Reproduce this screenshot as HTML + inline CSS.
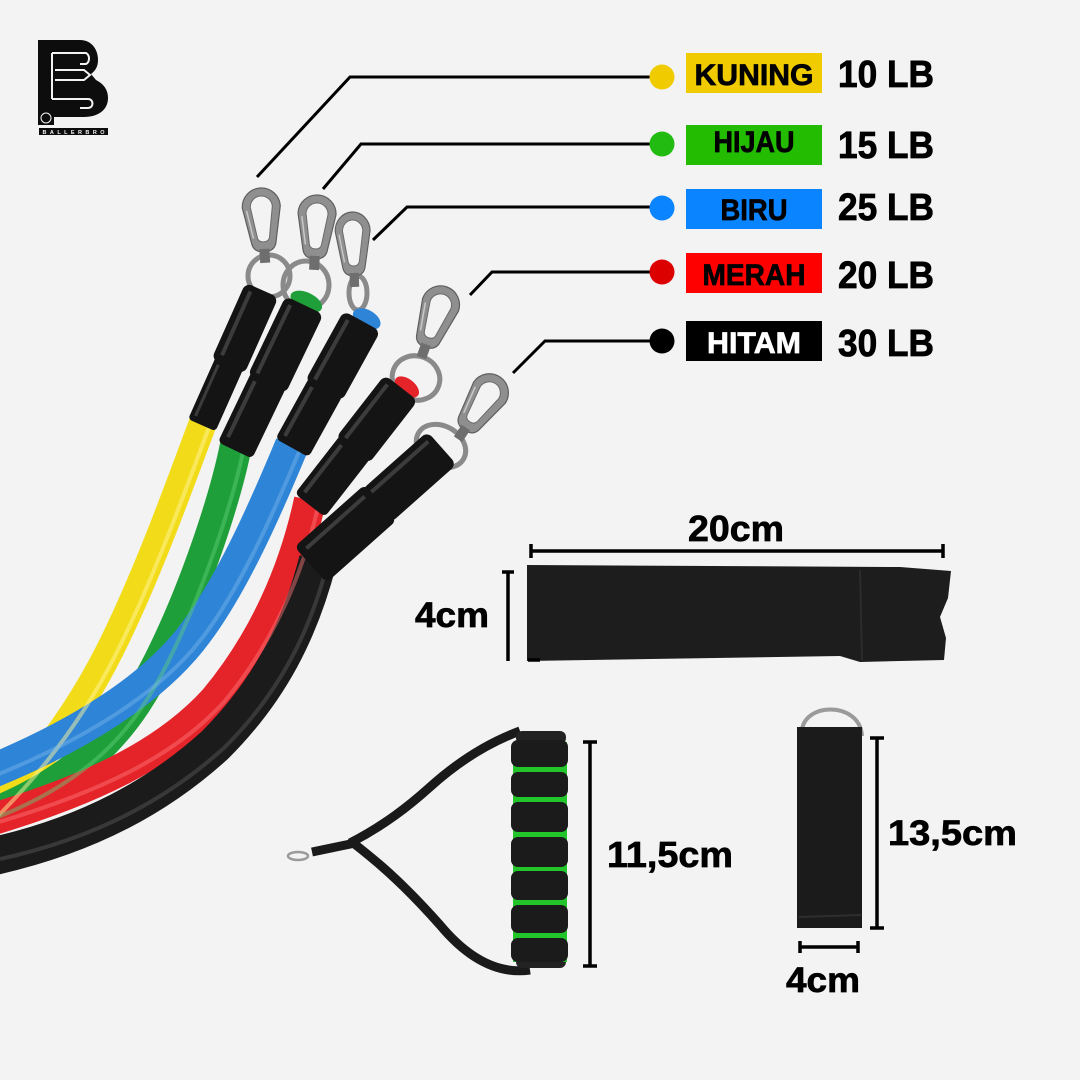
<!DOCTYPE html>
<html><head><meta charset="utf-8"><style>
html,body{margin:0;padding:0;background:#f3f3f3;}
svg{display:block;font-family:"Liberation Sans",Arial,sans-serif;}
</style></head><body>
<svg width="1080" height="1080" viewBox="0 0 1080 1080" xmlns="http://www.w3.org/2000/svg">
<rect width="1080" height="1080" fill="#f3f3f3"/>

<!-- Logo -->
<g>
  <path d="M38,40 L80,40 C92,40 98,50 98,60 C98,67 95,71 91,74 L96,80 C104,84 108,90 108,98 C108,110 98,117 84,117 L54,117 L54,125 L38,125 Z" fill="#0d0d0d"/>
  <g stroke="#f3f3f3" stroke-width="2" fill="none">
    <path d="M52,53 L86,53 C90,55 90,62 86,64 L80,64"/>
    <path d="M52,53 L52,99"/>
    <path d="M55,70 L84,70 L90,75 L84,80 L55,80"/>
    <path d="M52,99 L88,99 C94,99 94,108 88,108 L80,108"/>
  </g>
  <circle cx="46" cy="118" r="5" fill="none" stroke="#f3f3f3" stroke-width="1"/>
  <rect x="39" y="128" width="69" height="7" fill="#0d0d0d"/>
  <text x="73.5" y="134" font-size="5.5" font-weight="bold" fill="#f3f3f3" text-anchor="middle" textLength="62" lengthAdjust="spacing">BALLERBRO</text>
</g>

<!-- Leader lines -->
<g stroke="#000" stroke-width="3" fill="none">
  <path d="M257,177 L350,77 L652,77"/>
  <path d="M323,189 L361,144 L652,144"/>
  <path d="M373,240 L407,207 L652,207"/>
  <path d="M470,295 L492,272 L652,272"/>
  <path d="M513,373 L545,341 L652,341"/>
</g>
<circle cx="662" cy="77" r="12.5" fill="#efcb00"/>
<circle cx="662" cy="144" r="12.5" fill="#22bb11"/>
<circle cx="662" cy="208" r="12.5" fill="#0a84ff"/>
<circle cx="662" cy="272" r="12.5" fill="#dd0000"/>
<circle cx="662" cy="341" r="12.5" fill="#000"/>

<!-- Label boxes -->
<rect x="686" y="53" width="136" height="40" fill="#efcb00"/>
<rect x="686" y="125" width="136" height="40" fill="#23bc00"/>
<rect x="686" y="189" width="136" height="40" fill="#0a84ff"/>
<rect x="686" y="253" width="136" height="40" fill="#ff0000"/>
<rect x="686" y="321" width="136" height="40" fill="#000"/>
<g font-weight="bold" font-size="30" text-anchor="middle" fill="#000" stroke="#000" stroke-width="0.7">
  <text x="754" y="85" textLength="119" lengthAdjust="spacingAndGlyphs">KUNING</text>
  <text x="754" y="152" textLength="81" lengthAdjust="spacingAndGlyphs">HIJAU</text>
  <text x="754" y="220" textLength="67" lengthAdjust="spacingAndGlyphs">BIRU</text>
  <text x="754" y="285" textLength="103" lengthAdjust="spacingAndGlyphs">MERAH</text>
  <text x="754" y="353" textLength="94" lengthAdjust="spacingAndGlyphs" fill="#fff" stroke="#fff">HITAM</text>
</g>
<g font-weight="bold" font-size="38" fill="#000" stroke="#000" stroke-width="0.8">
  <text x="838" y="87" textLength="96" lengthAdjust="spacingAndGlyphs">10 LB</text>
  <text x="838" y="158" textLength="96" lengthAdjust="spacingAndGlyphs">15 LB</text>
  <text x="838" y="220" textLength="96" lengthAdjust="spacingAndGlyphs">25 LB</text>
  <text x="838" y="288" textLength="96" lengthAdjust="spacingAndGlyphs">20 LB</text>
  <text x="838" y="356" textLength="96" lengthAdjust="spacingAndGlyphs">30 LB</text>
</g>

<!-- Tubes -->
<g fill="none" stroke-linecap="butt">
  <path d="M204,420 C185,470 150,570 110,650 C80,710 40,765 -10,815" stroke="#f2dc1a" stroke-width="28"/>
  <path d="M236,445 C225,500 195,590 160,660 C130,720 90,775 -10,815" stroke="#1f9f3a" stroke-width="32"/>
  <path d="M292,445 C265,510 230,590 190,640 C150,690 80,735 -10,772" stroke="#2e84d6" stroke-width="34"/>
  <path d="M310,500 C295,570 265,640 215,700 C165,755 90,790 -10,820" stroke="#e5242a" stroke-width="32"/>
  <path d="M318,560 C300,630 270,690 215,745 C160,795 90,835 -10,857" stroke="#1b1b1b" stroke-width="38"/>
  <!-- highlights -->
  <path d="M211,422 C192,472 157,572 117,652 C87,712 47,767 -3,817" stroke="#fff59a" stroke-width="4" opacity="0.5"/>
  <path d="M244,447 C233,502 203,592 168,662 C138,722 98,777 -2,817" stroke="#5fd07a" stroke-width="4" opacity="0.45"/>
  <path d="M301,447 C274,512 239,592 199,642 C159,692 89,737 -1,774" stroke="#7ab8ee" stroke-width="4" opacity="0.45"/>
  <path d="M319,502 C304,572 274,642 224,702 C174,757 99,792 -1,822" stroke="#ff7a7a" stroke-width="4" opacity="0.45"/>
  <path d="M328,562 C310,632 280,692 225,747 C170,797 100,837 0,859" stroke="#555" stroke-width="4" opacity="0.5"/>
</g>

<!-- Carabiner rings -->
<g fill="none" stroke="#8a8a8a" stroke-width="5">
  <ellipse cx="269" cy="276" rx="21" ry="21"/>
  <ellipse cx="306" cy="285" rx="23" ry="24"/>
  <ellipse cx="358" cy="293" rx="9" ry="17"/>
  <ellipse cx="416" cy="378" rx="24" ry="22" transform="rotate(20 416 378)"/>
  <ellipse cx="441" cy="446" rx="26" ry="20" transform="rotate(30 441 446)"/>
</g>

<!-- Carabiner loops -->
<defs>
  <g id="clip">
    <path d="M-19,19 A19,19 0 0 1 19,19 L12,56 Q10,64 0,64 Q-10,64 -12,56 Z" fill="#8f8f8f" stroke="#5e5e5e" stroke-width="1.2"/>
    <path d="M-11,19 A11,11 0 0 1 11,19 L6,50 Q5,54 0,54 Q-5,54 -6,50 Z" fill="#f3f3f3" stroke="#6a6a6a" stroke-width="1"/>
    <path d="M-15,22 L-10,50" stroke="#c9c9c9" stroke-width="1.5" fill="none"/>
    <rect x="-5" y="61" width="10" height="14" fill="#6e6e6e"/>
  </g>
</defs>
<use href="#clip" transform="translate(260,188) rotate(-4)"/>
<use href="#clip" transform="translate(318,195) rotate(3)"/>
<use href="#clip" transform="translate(352,212) rotate(-2) scale(0.92,1)"/>
<use href="#clip" transform="translate(447,287) rotate(20)"/>
<use href="#clip" transform="translate(500,377) rotate(34)"/>

<!-- Sleeves -->
<g transform="translate(262,290) rotate(24)">
  <rect x="-18" y="0" width="36" height="84" rx="7" fill="#141414"/>
  <rect x="-15" y="76" width="30" height="72" rx="4" fill="#141414"/>
  <rect x="-12" y="6" width="4" height="70" fill="#3c3c3c"/>
  <rect x="-11" y="86" width="3" height="56" fill="#3c3c3c"/>
</g>
<g transform="translate(308,298) rotate(25.6)">
  <ellipse cx="0" cy="4" rx="17" ry="9" fill="#1f9f3a"/>
  <rect x="-21" y="8" width="42" height="88" rx="7" fill="#141414"/>
  <rect x="-19" y="90" width="38" height="79" rx="5" fill="#141414"/>
  <rect x="-15" y="14" width="4" height="76" fill="#3c3c3c"/>
  <rect x="-14" y="98" width="4" height="62" fill="#3c3c3c"/>
</g>
<g transform="translate(366,314) rotate(28.9)">
  <ellipse cx="3" cy="4" rx="15" ry="9" fill="#2e84d6"/>
  <rect x="-21" y="8" width="42" height="80" rx="7" fill="#141414"/>
  <rect x="-19" y="82" width="38" height="71" rx="5" fill="#141414"/>
  <rect x="-15" y="14" width="4" height="68" fill="#3c3c3c"/>
  <rect x="-14" y="90" width="4" height="56" fill="#3c3c3c"/>
</g>
<g transform="translate(405,383) rotate(37.9)">
  <ellipse cx="4" cy="2" rx="14" ry="8" fill="#e5242a"/>
  <rect x="-21" y="6" width="42" height="80" rx="7" fill="#141414"/>
  <rect x="-19" y="80" width="38" height="75" rx="5" fill="#141414"/>
  <rect x="-15" y="12" width="4" height="68" fill="#3c3c3c"/>
  <rect x="-14" y="88" width="4" height="60" fill="#3c3c3c"/>
</g>
<g transform="translate(442,448) rotate(48.4)">
  <rect x="-22" y="0" width="44" height="88" rx="7" fill="#141414"/>
  <rect x="-24" y="82" width="48" height="94" rx="6" fill="#141414"/>
  <rect x="-16" y="6" width="4" height="76" fill="#3c3c3c"/>
  <rect x="-17" y="90" width="4" height="78" fill="#3c3c3c"/>
</g>

<!-- Horizontal strap -->
<polygon points="527,565 900,567 951,571 948,598 940,617 946,638 944,660 860,662 840,656 527,661" fill="#1d1d1d"/>
<path d="M860,570 L862,660" stroke="#2c2c2c" stroke-width="2"/>
<g stroke="#000" stroke-width="3.5" fill="none">
  <path d="M531,551 L943,551 M531,544 L531,558 M943,544 L943,558"/>
  <path d="M508,571 L508,661 M502,572 L514,572 M528,660 L540,660"/>
</g>
<g font-weight="bold" fill="#000" stroke="#000" stroke-width="0.7">
<text x="736" y="541" font-size="36" text-anchor="middle" textLength="96" lengthAdjust="spacingAndGlyphs">20cm</text>
<text x="415" y="627" font-size="35" textLength="74" lengthAdjust="spacingAndGlyphs">4cm</text>
</g>

<!-- Handle -->
<g fill="none" stroke="#1a1a1a" stroke-width="9" stroke-linejoin="round">
  <path d="M520,731 C490,742 460,760 430,787 C410,805 385,825 350,843"/>
  <path d="M352,842 C375,860 400,880 440,925 C465,955 495,975 530,970"/>
  <path d="M360,842 L312,852"/>
</g>
<ellipse cx="298" cy="856" rx="10" ry="4" fill="none" stroke="#9a9a9a" stroke-width="2.5"/>
<rect x="516" y="731" width="50" height="13" rx="6" fill="#222"/>
<rect x="516" y="955" width="50" height="13" rx="6" fill="#222"/>
<rect x="513" y="742" width="54" height="220" fill="#22c62a"/>
<g fill="#1b1b1b">
  <rect x="511" y="740" width="57" height="27" rx="7"/>
  <rect x="511" y="772" width="57" height="25" rx="7"/>
  <rect x="511" y="802" width="57" height="30" rx="7"/>
  <rect x="511" y="837" width="57" height="30" rx="7"/>
  <rect x="511" y="871" width="57" height="29" rx="7"/>
  <rect x="511" y="905" width="57" height="28" rx="7"/>
  <rect x="511" y="938" width="57" height="24" rx="7"/>
</g>
<g stroke="#000" stroke-width="3.5" fill="none">
  <path d="M590,742 L590,966 M583,742 L597,742 M583,966 L597,966"/>
</g>
<text x="607" y="867" font-size="36" font-weight="bold" stroke="#000" stroke-width="0.7" textLength="126" lengthAdjust="spacingAndGlyphs">11,5cm</text>

<!-- Door anchor strap -->
<path d="M802,734 C800,702 860,700 862,736" fill="none" stroke="#9a9a9a" stroke-width="4"/>
<rect x="797" y="727" width="65" height="201" fill="#1b1b1b"/>
<path d="M799,917 L861,915" stroke="#2e2e2e" stroke-width="2"/>
<g stroke="#000" stroke-width="3.5" fill="none">
  <path d="M877,738 L877,928 M870,738 L884,738 M870,928 L884,928"/>
  <path d="M800,947 L858,947 M800,941 L800,953 M858,941 L858,953"/>
</g>
<g font-weight="bold" fill="#000" stroke="#000" stroke-width="0.7">
<text x="888" y="845" font-size="35" textLength="129" lengthAdjust="spacingAndGlyphs">13,5cm</text>
<text x="786" y="992" font-size="35" textLength="74" lengthAdjust="spacingAndGlyphs">4cm</text>
</g>
</svg>
</body></html>
